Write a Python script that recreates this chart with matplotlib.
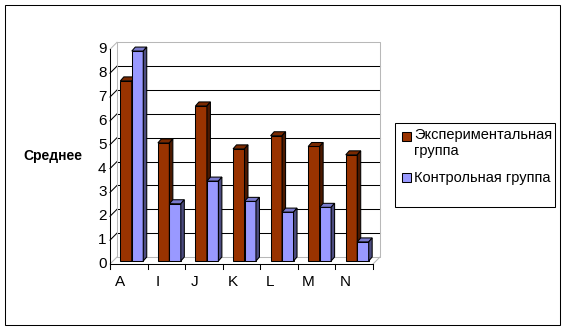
import matplotlib
matplotlib.use("Agg")
import matplotlib.pyplot as plt
from matplotlib.patches import Polygon, Rectangle

# --- data ---
categories = ["A", "I", "J", "K", "L", "M", "N"]
experimental = [7.55, 4.95, 6.5, 4.7, 5.25, 4.8, 4.45]
control = [8.8, 2.4, 3.35, 2.5, 2.05, 2.25, 0.8]
y_ticks = list(range(10))
series_names = ["Экспериментальная\nгруппа", "Контрольная группа"]
y_label = "Среднее"

# face colours: front, top, side
RED = ("#993300", "#7a2900", "#4c1900")
BLUE = ("#9999ff", "#7a7acc", "#4c4c80")
WALL = "#b8b8b8"

W, H, DPI = 566, 330, 100
plt.rcParams["font.family"] = ["Liberation Sans", "DejaVu Sans"]

fig = plt.figure(figsize=(W / DPI, H / DPI), dpi=DPI)
fig.patch.set_facecolor("white")


def fpx(x, y):
    """image pixel (top-left origin) -> figure fraction"""
    return x / W, 1 - y / H


ax = fig.add_axes([110 / W, 66 / H, 263 / W, 214.7 / H])
x_lo, x_hi = -0.5, len(categories) - 0.5
ax.set_xlim(x_lo, x_hi)
ax.set_ylim(0, 9)
ax.axis("off")

# pixels per data unit, used to turn the 3D depth offsets into data units
p0 = ax.transData.transform((0, 0))
p1 = ax.transData.transform((1, 1))
ux, uy = p1 - p0


def off(dx, dy):
    return dx / ux, dy / uy


wdx, wdy = off(7, 7)      # back wall
bdx, bdy = off(3, 3)      # bar front face
ddx, ddy = off(3.5, 4)    # bar depth
lw = 0.75

# back wall gridlines
for v in y_ticks[1:-1]:
    ax.plot([x_lo + wdx, x_hi + wdx], [v + wdy, v + wdy], color="black",
            lw=lw, clip_on=False, zorder=1)
    # diagonal tick from front axis to wall
    ax.plot([x_lo, x_lo + wdx], [v, v + wdy], color="black", lw=lw,
            clip_on=False, zorder=1)

# wall and floor outline
ax.plot([x_lo + wdx, x_hi + wdx, x_hi + wdx, x_lo + wdx, x_lo + wdx],
        [9 + wdy, 9 + wdy, wdy, wdy, 9 + wdy], color=WALL, lw=lw,
        clip_on=False, zorder=1)
for yv in (0, 9):
    ax.plot([x_lo, x_lo + wdx], [yv, yv + wdy], color=WALL, lw=lw,
            clip_on=False, zorder=1)
ax.plot([x_hi, x_hi + wdx], [0, wdy], color=WALL, lw=lw, clip_on=False, zorder=1)

# front axes
tick_len = 5 / uy
ax.plot([x_lo, x_lo], [-tick_len, 9], color="black", lw=lw, clip_on=False, zorder=2)
ax.plot([x_lo, x_hi], [0, 0], color="black", lw=lw, clip_on=False, zorder=2)
for i in range(len(categories) + 1):
    xb = x_lo + i
    ax.plot([xb, xb], [0, -tick_len], color="black", lw=lw, clip_on=False, zorder=2)

for v in y_ticks:
    ax.text(x_lo - 3.5 / ux, v, str(v), ha="right", va="center", fontsize=11)

for i, c in enumerate(categories):
    ax.text(i - 9 / ux, -18 / uy, c, ha="center", va="center", fontsize=11)

# bars
bw = 0.305


def bar3d(x0, v, colors, z):
    x0 += bdx
    x1 = x0 + bw
    y0 = bdy
    y1 = v + bdy
    ax.add_patch(Rectangle((x0, y0), bw, y1 - y0, facecolor=colors[0],
                           edgecolor="black", lw=lw, clip_on=False, zorder=z))
    ax.add_patch(Polygon([(x0, y1), (x1, y1), (x1 + ddx, y1 + ddy), (x0 + ddx, y1 + ddy)],
                         closed=True, facecolor=colors[1], edgecolor="black",
                         lw=lw, clip_on=False, zorder=z))
    ax.add_patch(Polygon([(x1, y0), (x1 + ddx, y0 + ddy), (x1 + ddx, y1 + ddy), (x1, y1)],
                         closed=True, facecolor=colors[2], edgecolor="black",
                         lw=lw, clip_on=False, zorder=z))


for i in range(len(categories)):
    bar3d(i - bw, experimental[i], RED, 3 + 2 * i)
    bar3d(i, control[i], BLUE, 4 + 2 * i)

# y axis title
fig.text(*fpx(53, 156), y_label, ha="center", va="center", fontsize=10,
         fontweight="bold")

# legend drawn by hand
lx, ly = fpx(395, 207)
fig.patches.append(Rectangle((lx, ly), 160 / W, 84 / H, transform=fig.transFigure,
                             facecolor="white", edgecolor="black", lw=lw))
for name, colors, yc in zip(series_names, (RED, BLUE), (136, 178)):
    mx, my = fpx(402, yc + 4.5)
    fig.patches.append(Rectangle((mx, my), 9 / W, 9 / H, transform=fig.transFigure,
                                 facecolor=colors[0], edgecolor="black", lw=lw))
    fig.text(*fpx(414, yc - 7.5), name, ha="left", va="top", fontsize=10.5,
             linespacing=1.1)

# outer frame
bx, by = fpx(5, 325)
fig.patches.append(Rectangle((bx, by), 555 / W, 320 / H, transform=fig.transFigure,
                             facecolor="none", edgecolor="black", lw=lw))

fig.savefig("out.png", dpi=DPI)
